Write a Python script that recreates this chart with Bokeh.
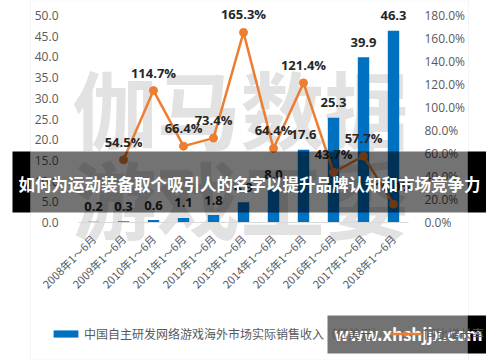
import math
from bokeh.plotting import figure
from bokeh.models import (ColumnDataSource, FactorRange, Range1d, LinearAxis,
                          FixedTicker, PrintfTickFormatter, LabelSet, Label, BoxAnnotation,
                          Legend, LegendItem)
from bokeh.core.properties import value
from bokeh.embed import file_html
from bokeh.resources import INLINE

# ---------------- data ----------------
periods = ["2008年1～6月", "2009年1～6月", "2010年1～6月", "2011年1～6月", "2012年1～6月",
           "2013年1～6月", "2014年1～6月", "2015年1～6月", "2016年1～6月", "2017年1～6月",
           "2018年1～6月"]
revenue = [0.2, 0.3, 0.6, 1.1, 1.8, 4.9, 8.0, 17.6, 25.3, 39.9, 46.3]
growth_periods = periods[1:]
growth = [54.5, 114.7, 66.4, 73.4, 165.3, 64.4, 121.4, 43.7, 57.7, 16.0]
left_ticks = [0, 5, 10, 15, 20, 25, 30, 35, 40, 45, 50]
right_ticks = [0, 20, 40, 60, 80, 100, 120, 140, 160, 180]
bar_name = "中国自主研发网络游戏海外市场实际销售收入（亿美元）"
line_name = "同比增长率"
banner_text = "如何为运动装备取个吸引人的名字以提升品牌认知和市场竞争力"
site_text = "www.xhshjjx.com"
watermark_rows = ["伽马数据", "游戏工委"]

BLUE = "#0070C0"
ORANGE = "#ED7D31"
GRAY = "#595959"
CJK = "Noto Sans CJK SC"
NUM = "Open Sans"

# ---------------- layout constants (pixels) ----------------
W, H = 486, 360          # canvas = frame
PLOT_L, CAT_W = 78, 30   # left edge of category area, width of a category
BASE, TOP = 222, 15      # pixel row of value 0 and of the axis maximum
n = len(periods)
pad = PLOT_L / CAT_W     # symmetric padding (in categories) so frame spans whole canvas
ymax_l, ymax_r = left_ticks[-1], right_ticks[-1]
k_l = ymax_l / (BASE - TOP)
k_r = ymax_r / (BASE - TOP)


def px(x):
    # pixel column -> synthetic categorical coordinate
    return (x - PLOT_L) / CAT_W


src = ColumnDataSource(dict(period=periods, revenue=revenue,
                            label=[f"{v:.1f}" for v in revenue]))
src2 = ColumnDataSource(dict(period=growth_periods, growth=growth,
                             label=[f"{v:.1f}%" for v in growth]))

p = figure(x_range=FactorRange(factors=periods, range_padding=pad, range_padding_units="absolute"),
           y_range=Range1d(-(H - BASE) * k_l, ymax_l + TOP * k_l),
           width=W, height=H, output_backend="svg", toolbar_location=None,
           min_border_left=0, min_border_right=0, min_border_top=0, min_border_bottom=0,
           background_fill_color="white", border_fill_color="white")
p.outline_line_color = None
p.xgrid.grid_line_color = None
p.ygrid.grid_line_color = None

p.extra_y_ranges = {"pct": Range1d(-(H - BASE) * k_r, ymax_r + TOP * k_r),
                    "py": Range1d(H, 0)}

# left axis (drawn at the left edge of the category area)
ly = p.left[0]
ly.fixed_location = 0
ly.ticker = FixedTicker(ticks=left_ticks)
ly.formatter = PrintfTickFormatter(format="%.1f")
ly.axis_line_color = None
ly.major_tick_line_color = None
ly.minor_tick_line_color = None
ly.major_label_standoff = 14
ly.major_label_text_font = NUM
ly.major_label_text_font_size = "12px"
ly.major_label_text_color = GRAY

# right axis
ry = LinearAxis(y_range_name="pct", ticker=FixedTicker(ticks=right_ticks),
                formatter=PrintfTickFormatter(format="%.1f%%"), fixed_location=n)
ry.axis_line_color = None
ry.major_tick_line_color = None
ry.minor_tick_line_color = None
ry.major_label_standoff = 10
ry.major_label_text_font = NUM
ry.major_label_text_font_size = "12px"
ry.major_label_text_color = GRAY
p.add_layout(ry, "right")

# x axis
xa = p.below[0]
xa.fixed_location = 0
xa.bounds = (0, n)
xa.major_label_orientation = math.pi / 4
xa.axis_line_color = "#d9d9d9"
xa.major_tick_line_color = None
xa.minor_tick_line_color = None
xa.major_label_standoff = 8
xa.major_label_text_font = CJK
xa.major_label_text_font_size = "11px"
xa.major_label_text_color = GRAY

# watermark (below data)
for i, row in enumerate(watermark_rows):
    p.add_layout(Label(x=px(240), y=106 + 90 * i, y_range_name="py",
                       text=row, text_align="center", text_baseline="middle",
                       text_font=CJK, text_font_style="bold", text_font_size="84px",
                       text_color="#e2e2e2", level="underlay"))

# chart border
p.add_layout(BoxAnnotation(left=px(30), right=px(468), top=0.5, bottom=359.5,
                           y_range_name="py",
                           fill_alpha=0, line_color="#d9d9d9", line_width=1, level="underlay"))

bars = p.vbar(x="period", top="revenue", width=0.38, source=src,
              fill_color=BLUE, line_color=None)
line = p.line("period", "growth", source=src2, y_range_name="pct",
              line_color=ORANGE, line_width=2.5)
pts = p.scatter("period", "growth", source=src2, y_range_name="pct", size=8,
                fill_color=ORANGE, line_color=ORANGE)

p.add_layout(LabelSet(x="period", y="revenue", text="label", source=src,
                      text_align="center", text_baseline="middle", y_offset=15,
                      text_font=value(NUM), text_font_style="bold",
                      text_font_size="13px", text_color="#262626"))
p.add_layout(LabelSet(x="period", y="growth", text="label", source=src2, y_range_name="pct",
                      text_align="center", text_baseline="middle", y_offset=18,
                      text_font=value(NUM), text_font_style="bold",
                      text_font_size="13px", text_color="#262626"))

legend = Legend(items=[LegendItem(label=bar_name, renderers=[bars]),
                       LegendItem(label=line_name, renderers=[line, pts])],
                orientation="horizontal", location=(50, 18),
                glyph_width=31, glyph_height=9, label_height=14,
                label_text_font=CJK, label_text_font_size="12px", label_text_color=GRAY,
                border_line_color=None, background_fill_alpha=0,
                padding=0, margin=0, spacing=6, label_standoff=3)
p.add_layout(legend, "center")


# overlays
def box(l, r, t, b, alpha):
    p.add_layout(BoxAnnotation(left=px(l), right=px(r), top=t, bottom=b,
                               y_range_name="py",
                               fill_color="black", fill_alpha=alpha, line_color=None))


box(12, 30, 151, 212, 1.0)
box(30, 467, 151, 212, 0.55)
box(467, 488, 151, 212, 1.0)
box(327, 467, 315, 353, 0.55)
box(467, 490, 315, 353, 1.0)

p.add_layout(Label(x=px(249), y=183, y_range_name="py", text=banner_text,
                   text_align="center", text_baseline="middle", text_color="white",
                   text_font=CJK, text_font_style="bold", text_font_size="16.5px"))
p.add_layout(Label(x=px(408), y=333, y_range_name="py", text=site_text,
                   text_align="center", text_baseline="middle", text_color="white",
                   text_font=CJK, text_font_style="bold", text_font_size="17px"))

open("out.html", "w").write(file_html(p, INLINE))
